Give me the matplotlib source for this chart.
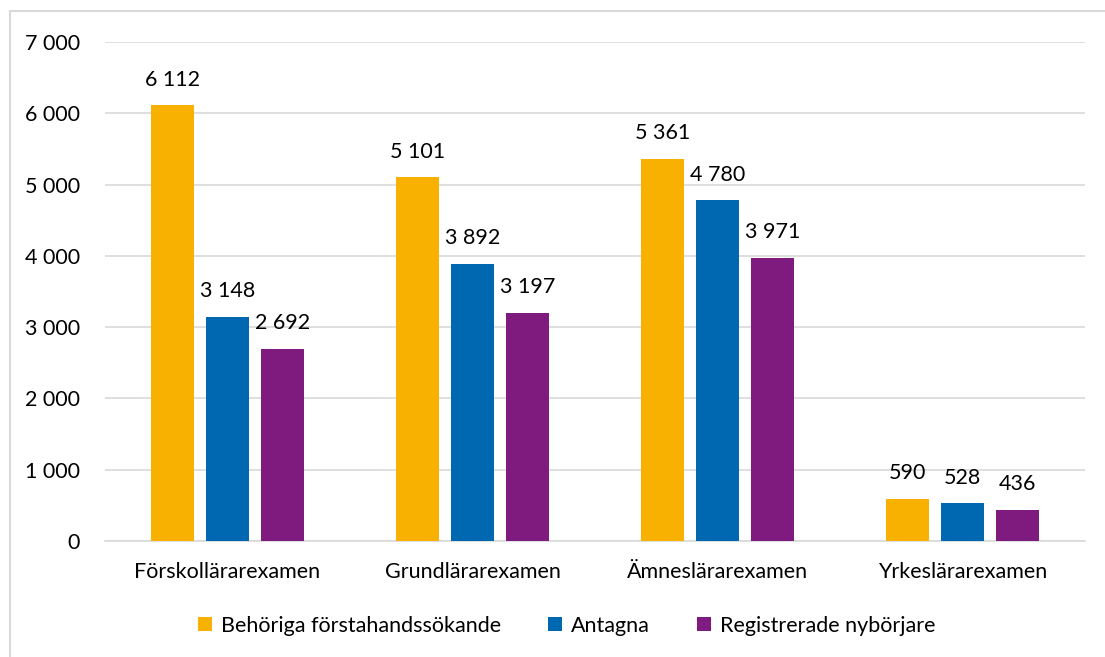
import matplotlib.pyplot as plt
import numpy as np
from matplotlib.lines import Line2D

plt.rcParams['font.family'] = ['Lato', 'DejaVu Sans']

categories = ['Förskollärarexamen', 'Grundlärarexamen', 'Ämneslärarexamen', 'Yrkeslärarexamen']
series_names = ['Behöriga förstahandssökande', 'Antagna', 'Registrerade nybörjare']
behoriga = [6112, 5101, 5361, 590]
antagna = [3148, 3892, 4780, 528]
registrerade = [2692, 3197, 3971, 436]
yticks = [0, 1000, 2000, 3000, 4000, 5000, 6000, 7000]

colors = ['#F8B100', '#0068B1', '#7F1A7F']
fs = 15.5

def fmt(v):
    return f'{v:,}'.replace(',', ' ')

fig = plt.figure(figsize=(11.05, 6.57), dpi=100)
ax = fig.add_axes([105 / 1105, 116 / 657, 980 / 1105, 499 / 657])

x = np.arange(len(categories))
w = 0.175
step = 0.224
for i, (vals, name) in enumerate(zip([behoriga, antagna, registrerade], series_names)):
    pos = x + (i - 1) * step
    ax.bar(pos, vals, width=w, color=colors[i], label=name, zorder=3)
    for p, v in zip(pos, vals):
        ax.text(p, v + 220, fmt(v), ha='center', va='bottom', fontsize=fs)

ax.set_xlim(-0.5, len(categories) - 0.5)
ax.set_ylim(0, 7000)
ax.set_yticks(yticks)
ax.set_yticklabels([fmt(t) for t in yticks], fontsize=fs)
ax.set_xticks(x)
ax.set_xticklabels(categories, fontsize=fs)
ax.tick_params(axis='both', length=0)
ax.tick_params(axis='y', pad=18)
ax.tick_params(axis='x', pad=15)
ax.grid(axis='y', color='#D9D9D9', linewidth=1.2, zorder=0)
for s in ['left', 'right', 'top']:
    ax.spines[s].set_visible(False)
ax.spines['bottom'].set_color('#D9D9D9')
ax.spines['bottom'].set_linewidth(1.2)

ax.legend(loc='center', bbox_to_anchor=(0.471, -0.17), ncol=3, frameon=False,
          fontsize=fs, handlelength=0.65, handleheight=0.65, handletextpad=0.4,
          columnspacing=2.2)

# light gray outer frame (left and top edges)
fig.add_artist(Line2D([10 / 1105, 10 / 1105], [0, 1 - 11 / 657], transform=fig.transFigure,
                      color='#D9D9D9', linewidth=1.5))
fig.add_artist(Line2D([10 / 1105, 1], [1 - 11 / 657, 1 - 11 / 657], transform=fig.transFigure,
                      color='#D9D9D9', linewidth=1.5))

fig.savefig('out.png', dpi=100)
